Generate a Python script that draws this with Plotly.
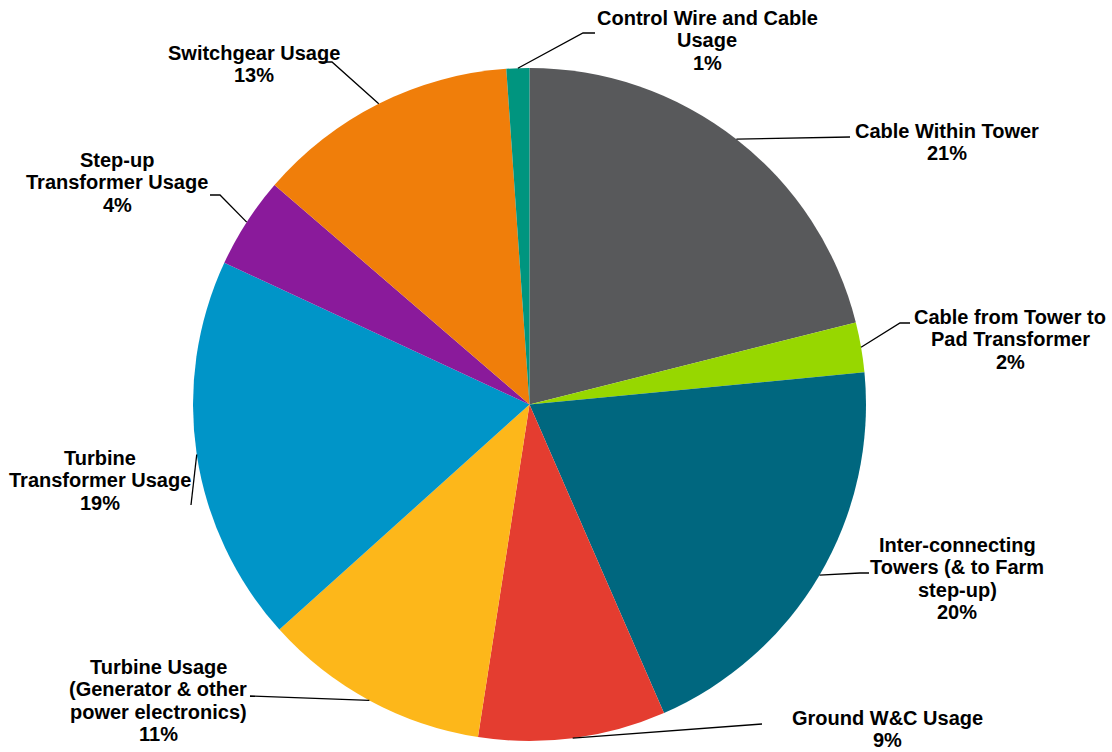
import math
import plotly.graph_objects as go

# ---------------- data ----------------
categories = [
    "Cable Within Tower",
    "Cable from Tower to Pad Transformer",
    "Inter-connecting Towers (& to Farm step-up)",
    "Ground W&C Usage",
    "Turbine Usage (Generator & other power electronics)",
    "Turbine Transformer Usage",
    "Step-up Transformer Usage",
    "Switchgear Usage",
    "Control Wire and Cable Usage",
]
values = [21.1, 2.4, 20.0, 9.0, 10.9, 18.6, 4.4, 12.6, 1.1]

colors = [
    "#58595B", "#97D700", "#00677F", "#E43D30", "#FDB71A",
    "#0095C8", "#8A1A9B", "#F07E0A", "#00957F",
]

# ---------------- layout (pixels) ----------------
W, H = 1112, 752
CX, CY, R = 529.5, 404.5, 336.5
LINE_H = 22.3
FONT = dict(family="Liberation Sans, Arial, sans-serif", size=20, color="#000000", weight="bold")

# how each category label is wrapped on the chart
label_lines = {
    "Cable Within Tower": ["Cable Within Tower"],
    "Cable from Tower to Pad Transformer": ["Cable from Tower to", "Pad Transformer"],
    "Inter-connecting Towers (& to Farm step-up)": ["Inter-connecting", "Towers (& to Farm", "step-up)"],
    "Ground W&C Usage": ["Ground W&C Usage"],
    "Turbine Usage (Generator & other power electronics)": ["Turbine Usage", "(Generator & other", "power electronics)"],
    "Turbine Transformer Usage": ["Turbine", "Transformer Usage"],
    "Step-up Transformer Usage": ["Step-up", "Transformer Usage"],
    "Switchgear Usage": ["Switchgear Usage"],
    "Control Wire and Cable Usage": ["Control Wire and Cable", "Usage"],
}
# label block position: (center x, first line y)
label_pos = {
    "Cable Within Tower": (947, 131),
    "Cable from Tower to Pad Transformer": (1010, 317),
    "Inter-connecting Towers (& to Farm step-up)": (957, 545),
    "Ground W&C Usage": (887, 718),
    "Turbine Usage (Generator & other power electronics)": (158, 667),
    "Turbine Transformer Usage": (100, 458),
    "Step-up Transformer Usage": (117, 160),
    "Switchgear Usage": (254, 53),
    "Control Wire and Cable Usage": (707, 18),
}
# leader line bends (after the slice tip)
leader_pts = {
    "Cable Within Tower": [(850, 137)],
    "Cable from Tower to Pad Transformer": [(900, 323), (910, 323)],
    "Inter-connecting Towers (& to Farm step-up)": [(860, 573), (869, 573)],
    "Ground W&C Usage": [(762, 724)],
    "Turbine Usage (Generator & other power electronics)": [(250, 696)],
    "Turbine Transformer Usage": [(191, 505)],
    "Step-up Transformer Usage": [(220, 195), (210, 195)],
    "Switchgear Usage": [(332, 62), (320, 62)],
    "Control Wire and Cable Usage": [(583, 33), (595, 33)],
}


def px(x):
    return x / W


def py(y):
    return 1 - y / H


fig = go.Figure(
    go.Pie(
        labels=categories,
        values=values,
        sort=False,
        direction="clockwise",
        rotation=0,
        marker=dict(colors=colors, line=dict(width=0)),
        textinfo="none",
        hoverinfo="label+percent",
        showlegend=False,
        domain=dict(x=[px(CX - R), px(CX + R)], y=[py(CY + R), py(CY - R)]),
    )
)

total = sum(values)
cum = 0.0
annotations = []
shapes = []
for cat, v in zip(categories, values):
    theta = math.radians(360.0 * (cum + v / 2) / total)
    cum += v
    tx = CX + R * math.sin(theta)
    ty = CY - R * math.cos(theta)
    pts = [(tx, ty)] + leader_pts[cat]
    path = "M " + " L ".join(f"{px(x):.5f},{py(y):.5f}" for x, y in pts)
    shapes.append(dict(type="path", xref="paper", yref="paper", path=path,
                       line=dict(color="#000000", width=1.3)))
    lines = label_lines[cat] + [f"{round(100 * v / total)}%"]
    x0, y0 = label_pos[cat]
    for i, t in enumerate(lines):
        annotations.append(dict(
            text=t, x=px(x0), y=py(y0 + i * LINE_H), xref="paper", yref="paper",
            xanchor="center", yanchor="middle", showarrow=False, font=FONT,
        ))

fig.update_layout(
    width=W, height=H,
    margin=dict(l=0, r=0, t=0, b=0),
    paper_bgcolor="white",
    plot_bgcolor="white",
    annotations=annotations,
    shapes=shapes,
)

fig.write_html(
    "out.html",
    config={"displayModeBar": False},
    post_script="document.body.style.margin='0';document.body.style.overflow='hidden';",
)
